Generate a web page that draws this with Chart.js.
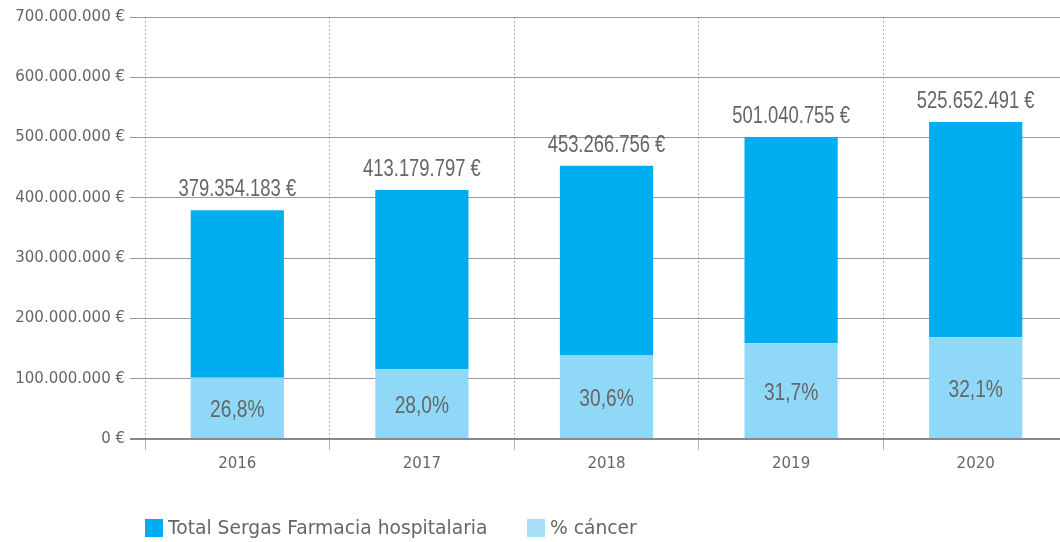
<!DOCTYPE html>
<html>
<head>
<meta charset="utf-8">
<script src="https://cdn.jsdelivr.net/npm/chart.js@4.4.1/dist/chart.umd.min.js"></script>
<style>
  html, body { margin: 0; padding: 0; background: #fff; overflow: hidden; }
  #wrap { position: relative; width: 1068px; height: 542px; }
</style>
</head>
<body>
<div id="wrap"><canvas id="gasto"></canvas></div>
<script>
const years = ['2016', '2017', '2018', '2019', '2020'];
const totals = [379354183, 413179797, 453266756, 501040755, 525652491];
const cancerPct = [26.8, 28.0, 30.6, 31.7, 32.1];
const seriesNames = ['Total Sergas Farmacia hospitalaria', '% cáncer'];

const darkBlue = '#00aeef';
const lightBlue = '#8fd8f7';
const textGrey = '#666666';

// cancer share in euros, and what remains of the total on top of it
const cancerAmount = totals.map((t, i) => t * cancerPct[i] / 100);
const restAmount = totals.map((t, i) => t - cancerAmount[i]);

function euros(v) {
    return Math.round(v).toString().replace(/\B(?=(\d{3})+(?!\d))/g, '.') + ' €';
}

// condensed text: squeeze a regular sans horizontally
function narrowText(ctx, text, x, y, size) {
    const squeeze = 0.8;
    ctx.save();
    ctx.translate(x, y);
    ctx.scale(squeeze, 1);
    ctx.font = size + 'px "Liberation Sans", Arial, sans-serif';
    ctx.fillText(text, 0, 0);
    ctx.restore();
}

const labelPlugin = {
    id: 'barLabels',
    afterDatasetsDraw(chart) {
        const ctx = chart.ctx;
        const low = chart.getDatasetMeta(0).data;
        const top = chart.getDatasetMeta(1).data;
        ctx.save();
        ctx.fillStyle = textGrey;
        ctx.textAlign = 'center';
        ctx.textBaseline = 'alphabetic';
        top.forEach((bar, i) => {
            narrowText(ctx, euros(totals[i]), bar.x, bar.y - 14, 23);
        });
        low.forEach((bar, i) => {
            const mid = (bar.y + bar.base) / 2;
            narrowText(ctx, cancerPct[i].toFixed(1).replace('.', ',') + '%', bar.x, mid + 9, 24);
        });
        ctx.restore();
    }
};

const legendPlugin = {
    id: 'bottomLegend',
    afterDraw(chart) {
        const ctx = chart.ctx;
        const items = [
            { text: seriesNames[0], color: darkBlue, x: 145 },
            { text: seriesNames[1], color: '#a8def8', x: 527 }
        ];
        ctx.save();
        ctx.font = '18.7px "DejaVu Sans", sans-serif';
        ctx.textBaseline = 'middle';
        ctx.textAlign = 'left';
        items.forEach(it => {
            ctx.fillStyle = it.color;
            ctx.fillRect(it.x, 519, 18, 18);
            ctx.fillStyle = textGrey;
            ctx.fillText(it.text, it.x + 23, 529);
        });
        ctx.restore();
    }
};

new Chart(document.getElementById('gasto'), {
    type: 'bar',
    data: {
        labels: years,
        datasets: [
            {
                label: seriesNames[1],
                data: cancerAmount,
                backgroundColor: lightBlue,
                barPercentage: 0.505,
                categoryPercentage: 1
            },
            {
                label: seriesNames[0],
                data: restAmount,
                backgroundColor: darkBlue,
                barPercentage: 0.505,
                categoryPercentage: 1
            }
        ]
    },
    options: {
        responsive: true,
        maintainAspectRatio: false,
        animation: false,
        layout: { padding: { top: 17, right: 0, bottom: 0, left: 0 } },
        plugins: {
            legend: { display: false },
            tooltip: { enabled: false }
        },
        scales: {
            x: {
                stacked: true,
                afterFit: scale => { scale.height = 103; },
                grid: {
                    offset: true,
                    color: '#b0b0b0',
                    lineWidth: 1,
                    tickLength: 11
                },
                border: { display: true, color: '#888888', width: 2, dash: [2, 2] },
                ticks: {
                    color: textGrey,
                    padding: 5,
                    font: { family: '"DejaVu Sans", sans-serif', size: 15 }
                }
            },
            y: {
                stacked: true,
                min: 0,
                max: 700000000,
                afterFit: scale => { scale.width = 145; },
                grid: {
                    color: ctx => ctx.tick && ctx.tick.value === 0 ? '#888888' : '#999999',
                    lineWidth: ctx => ctx.tick && ctx.tick.value === 0 ? 2 : 1,
                    tickLength: 15
                },
                border: { display: false },
                ticks: {
                    stepSize: 100000000,
                    color: textGrey,
                    padding: 5,
                    font: { family: '"DejaVu Sans", sans-serif', size: 15 },
                    callback: v => euros(v)
                }
            }
        }
    },
    plugins: [labelPlugin, legendPlugin]
});
</script>
</body>
</html>
